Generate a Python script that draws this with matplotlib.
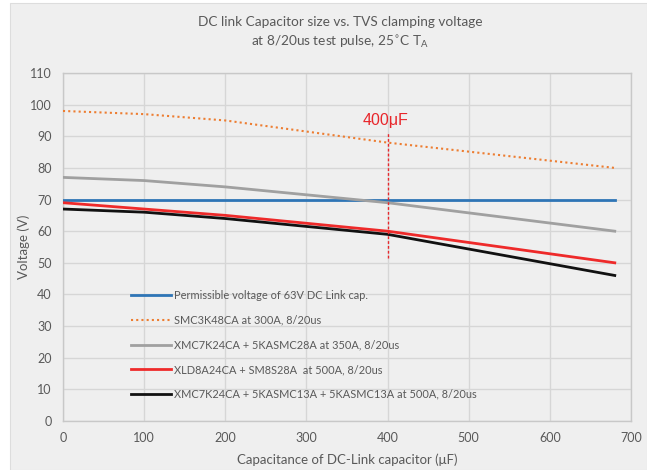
import matplotlib
matplotlib.use("Agg")
import matplotlib.pyplot as plt
from matplotlib.patches import Rectangle

# ---- data ----
cap_uF = [0, 100, 200, 300, 400, 680]
permissible = [70, 70, 70, 70, 70, 70]
smc3k48 = [98, 97, 95, 91.5, 88, 80]
xmc_5ka28 = [77, 76, 74, 71.5, 69, 60]
xld_sm8 = [69, 67, 65, 62.5, 60, 50]
xmc_5ka13 = [67, 66, 64, 61.5, 59, 46]

labels = [
    "Permissible voltage of 63V DC Link cap.",
    "SMC3K48CA at 300A, 8/20us",
    "XMC7K24CA + 5KASMC28A at 350A, 8/20us",
    "XLD8A24CA + SM8S28A  at 500A, 8/20us",
    "XMC7K24CA + 5KASMC13A + 5KASMC13A at 500A, 8/20us",
]
marker_x = 400
marker_range = [51.5, 91]
marker_text = "400\u03bcF"
xticks = [0, 100, 200, 300, 400, 500, 600, 700]
yticks = [0, 10, 20, 30, 40, 50, 60, 70, 80, 90, 100, 110]

plt.rcParams['font.family'] = ['Lato', 'DejaVu Sans']
txt = '#595959'
bg = '#efefef'

fig = plt.figure(figsize=(6.47, 4.70), dpi=100)
fig.patch.set_facecolor('white')
fig.patches.append(Rectangle((10/647, 0), 1 - 10/647, 1 - 3/470, transform=fig.transFigure,
                             facecolor=bg, edgecolor='#dddddd', lw=0.8, zorder=-10))

ax = fig.add_axes([63/647, 1 - 421/470, (631 - 63)/647, (421 - 73)/470])
ax.set_facecolor(bg)

ax.plot(cap_uF, permissible, color='#2E75B6', lw=2.0, label=labels[0], zorder=3)
ax.plot(cap_uF, smc3k48, color='#ED7D31', lw=1.5, ls=(0, (1, 1.5)), label=labels[1], zorder=3)
ax.plot(cap_uF, xmc_5ka28, color='#A0A0A0', lw=2.0, label=labels[2], zorder=3)
ax.plot(cap_uF, xld_sm8, color='#EE2A2A', lw=2.0, label=labels[3], zorder=3)
ax.plot(cap_uF, xmc_5ka13, color='#111111', lw=2.0, label=labels[4], zorder=3)

ax.plot([marker_x, marker_x], marker_range, color='#E8262B', lw=1.0, ls=(0, (2, 1.5)), zorder=4)
ax.text(marker_x - 3, 92.6, marker_text, color='#E8262B', fontsize=11.5,
        family=['Liberation Sans', 'DejaVu Sans'], ha='center', va='bottom', zorder=5)

ax.set_xlim(0, 700)
ax.set_ylim(0, 110)
ax.set_xticks(xticks)
ax.set_yticks(yticks)
ax.grid(True, color='#d6d6d6', lw=1.0)
ax.set_axisbelow(True)
for s in ax.spines.values():
    s.set_color('#c8c8c8')
    s.set_linewidth(1.0)
ax.tick_params(length=0, labelsize=9, labelcolor=txt, pad=8)

ax.set_xlabel("Capacitance of DC-Link capacitor (\u03bcF)", fontsize=9.5, color=txt, labelpad=7)
ax.set_ylabel("Voltage (V)", fontsize=9.5, color=txt, labelpad=0)

fig.text(340/647, 1 - 22/470, "DC link Capacitor size vs. TVS clamping voltage",
         ha='center', va='center', fontsize=9.8, color=txt)
fig.text(340/647, 1 - 42/470, r"at 8/20us test pulse, 25$^{\circ}$C T$_\mathregular{A}$",
         ha='center', va='center', fontsize=9.8, color=txt)

leg = ax.legend(loc='upper left', bbox_to_anchor=(131/647, 1 - 290/470),
                bbox_transform=fig.transFigure, frameon=False, fontsize=7.9,
                handlelength=3.6, handletextpad=0.3, labelspacing=1.25,
                borderpad=0, borderaxespad=0)
for t in leg.get_texts():
    t.set_color(txt)

fig.savefig("out.png", dpi=100, facecolor=fig.get_facecolor())
